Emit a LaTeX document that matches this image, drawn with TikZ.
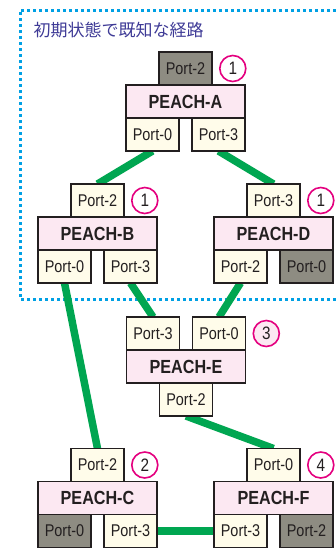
\documentclass[tikz,border=0pt]{standalone}
\usepackage{fontspec}
\setmainfont{Liberation Sans}[FakeStretch=0.85]
\newfontfamily\cjk{Noto Sans CJK JP}
\usetikzlibrary{positioning,backgrounds}
\definecolor{linkgreen}{RGB}{0,166,81}
\definecolor{dotblue}{RGB}{0,160,228}
\definecolor{titleblue}{RGB}{62,58,150}
\definecolor{swpink}{RGB}{252,232,242}
\definecolor{portcream}{RGB}{255,252,234}
\definecolor{portgray}{RGB}{142,140,130}
\definecolor{hopmag}{RGB}{228,0,127}
\definecolor{boxline}{RGB}{35,31,32}
\tikzset{
  sw/.style={draw=boxline,line width=1.8pt,fill=swpink,minimum width=119pt,minimum height=33pt,
    inner sep=0pt,outer sep=0pt,text=boxline,font=\fontsize{19}{21}\selectfont\bfseries},
  port/.style={draw=boxline,line width=1.8pt,fill=portcream,minimum width=53pt,minimum height=33pt,
    inner sep=0pt,outer sep=0pt,text=boxline,font=\fontsize{17}{19}\selectfont},
  dead/.style={fill=portgray},
  hop/.style={circle,draw=hopmag,line width=1.6pt,fill=white,minimum size=26pt,inner sep=0pt,
    text=boxline,font=\fontsize{18}{20}\selectfont},
  link/.style={linkgreen,line width=7.5pt},
  known/.style={dotblue,line width=3pt,dash pattern=on 3pt off 3pt}
}
\begin{document}
\begin{tikzpicture}[x=1pt,y=-1pt]
  \useasboundingbox (0,0) rectangle (336,549);
  \node[anchor=west,text=titleblue,font=\cjk\fontsize{17}{20}\selectfont] (ttl) at (30,30) {初期状態で既知な経路};

  \node[sw] (a) at (185.5,101.5) {PEACH-A};
  \node[port,dead,above=0pt of a] (a2) {Port-2};
  \node[port,below right=0pt of a.south west] (a0) {Port-0};
  \node[port,below left=0pt of a.south east] (a3) {Port-3};
  \node[hop,right=7pt of a2] (ha) {1};

  \node[sw] (b) at (97.5,233.5) {PEACH-B};
  \node[port,above=0pt of b] (b2) {Port-2};
  \node[port,below right=0pt of b.south west] (b0) {Port-0};
  \node[port,below left=0pt of b.south east] (b3) {Port-3};
  \node[hop,right=7pt of b2] (hb) {1};

  \node[sw] (d) at (273.5,233.5) {PEACH-D};
  \node[port,above=0pt of d] (d3) {Port-3};
  \node[port,below right=0pt of d.south west] (d2) {Port-2};
  \node[port,dead,below left=0pt of d.south east] (d0) {Port-0};
  \node[hop,right=7pt of d3] (hd) {1};

  \node[sw] (e) at (186,366.5) {PEACH-E};
  \node[port,above right=0pt of e.north west] (e3) {Port-3};
  \node[port,above left=0pt of e.north east] (e0) {Port-0};
  \node[port,below=0pt of e] (e2) {Port-2};
  \node[hop,fill=swpink,right=7pt of e0] (he) {3};

  \node[sw] (c) at (97.5,498) {PEACH-C};
  \node[port,above=0pt of c] (c2) {Port-2};
  \node[port,dead,below right=0pt of c.south west] (c0) {Port-0};
  \node[port,below left=0pt of c.south east] (c3) {Port-3};
  \node[hop,right=7pt of c2] (hc) {2};

  \node[sw] (f) at (273.5,498) {PEACH-F};
  \node[port,above=0pt of f] (f0) {Port-0};
  \node[port,below right=0pt of f.south west] (f3) {Port-3};
  \node[port,dead,below left=0pt of f.south east] (f2) {Port-2};
  \node[hop,right=7pt of f0] (hf) {4};

  \begin{scope}[on background layer]
    \draw[known] (336,10) -| (20,299) -- (336,299);
    \draw[link] (a0.south) -- (b2.north);
    \draw[link] (a3.south) -- (d3.north);
    \draw[link] (b3.south) -- (e3.north);
    \draw[link] (d2.south) -- (e0.north);
    \draw[link] (b0.south) -- (c2.north);
    \draw[link] (e2.south) -- (f0.north);
    \draw[link] (c3.east) -- (f3.west);
  \end{scope}
\end{tikzpicture}
\end{document}
